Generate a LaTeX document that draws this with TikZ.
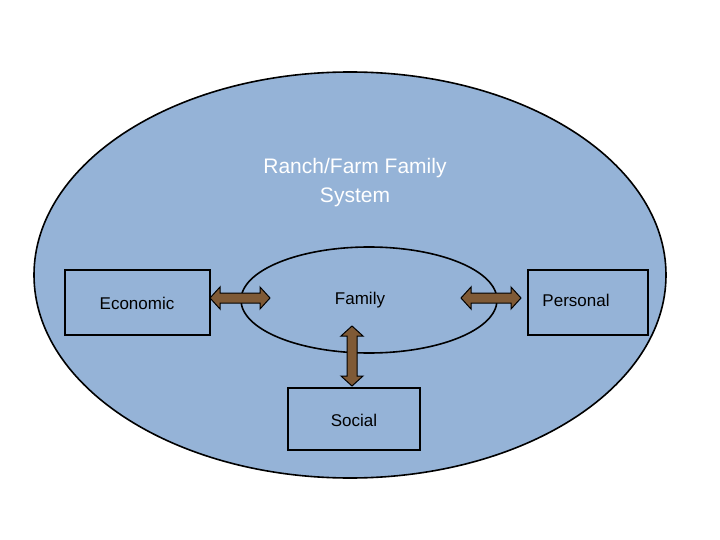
\documentclass[tikz,border=0pt]{standalone}
\usepackage{fontspec}
\setmainfont{Liberation Sans}
\definecolor{bg}{HTML}{95B3D7}
\definecolor{arr}{HTML}{7F5A36}
\begin{document}
\begin{tikzpicture}[x=1pt,y=-1pt,
  box/.style={draw=black,line width=1.6pt,fill=bg,inner sep=0pt},
  lbl/.style={font=\fontsize{17}{23}\selectfont,align=center},
  harr/.pic={\filldraw[fill=arr,draw=black,line width=1pt] (-30,0)--(-20,-11)--(-20,-5)--(20,-5)--(20,-11)--(30,0)--(20,11)--(20,5)--(-20,5)--(-20,11)--cycle;}]
\useasboundingbox (0,0) rectangle (720,540);
\fill[white] (0,0) rectangle (720,540);
\draw[box] (350,275) ellipse [x radius=316,y radius=203];
\draw[line width=1.6pt] (369,300) ellipse [x radius=128,y radius=53];
\node[box,minimum width=145,minimum height=65] (eco) at (137.5,302.5) {};
\node[box,minimum width=120,minimum height=65] (per) at (588,302.5) {};
\node[box,minimum width=132,minimum height=62] (soc) at (354,419) {};
\node[lbl,text=white,font=\fontsize{21}{29}\selectfont] (title) at (355,183) {Ranch/Farm Family\\System};
\node[lbl] (fam) at (360,300) {Family};
\node[lbl] at (137,303) {Economic};
\node[lbl] at (576,300) {Personal};
\node[lbl] at (354,420) {Social};
\pic at (240,298) {harr};
\pic at (491,298) {harr};
\pic[rotate=90] at (352,356) {harr};
\end{tikzpicture}
\end{document}
